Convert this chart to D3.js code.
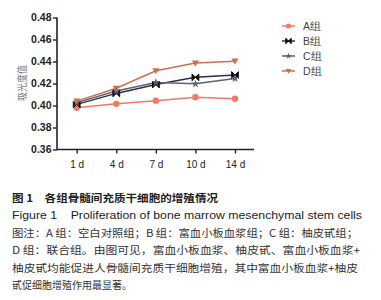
<!DOCTYPE html>
<html><head><meta charset="utf-8">
<script src="https://cdn.jsdelivr.net/npm/d3@7"></script>
<style>body{margin:0;background:#fff}svg{display:block}text{white-space:pre}</style>
</head><body>
<svg id="c" width="381" height="300"></svg>
<script>
const categories = ["1 d","4 d","7 d","10 d","14 d"];
const yTicks = [0.36,0.38,0.40,0.42,0.44,0.46,0.48];
const seriesNames = ["A组","B组","C组","D组"];
const seriesA = [0.398,0.4015,0.4044,0.4075,0.4062];
const seriesB = [0.401,0.411,0.419,0.4256,0.4277];
const seriesC = [0.4026,0.4132,0.421,0.4197,0.4246];
const seriesD = [0.404,0.4157,0.4316,0.4386,0.4403];
const colors = ["#f07a62","#2b2d52","#5d6078","#c9704e"];
const markers = ["circle","bowtie","star","tri"];
const yTitle = "吸光度值";
const captionLines = [
 "图 1　各组骨髓间充质干细胞的增殖情况",
 "Figure 1    Proliferation of bone marrow mesenchymal stem cells",
 "图注：A 组：空白对照组；B 组：富血小板血浆组；C 组：柚皮甙组；",
 "D 组：联合组。由图可见，富血小板血浆、柚皮甙、富血小板血浆+",
 "柚皮甙均能促进人骨髓间充质干细胞增殖，其中富血小板血浆+柚皮",
 "甙促细胞增殖作用最显著。"
];

const svg = d3.select("#c");
const x = d3.scalePoint().domain(categories).range([76.7,235]);
const y = d3.scaleLinear().domain([0.36,0.48]).range([149.5,17.5]);
const axisColor = "#222";

// y axis
const ya = svg.append("g").attr("transform","translate(57,0)")
 .call(d3.axisLeft(y).tickValues(yTicks).tickFormat(d3.format(".2f")).tickSize(4));
ya.select(".domain").attr("stroke",axisColor).attr("stroke-width",1.6).attr("d","M0,17.5V149.5");
ya.selectAll(".tick line").attr("stroke",axisColor).attr("stroke-width",1.4);
ya.selectAll(".tick text").attr("font-family","Liberation Sans, Arial").attr("font-size",10.5)
 .attr("font-weight","bold").attr("fill","#222").attr("x",-5.5);

// x axis
const xa = svg.append("g").attr("transform","translate(0,149.5)")
 .call(d3.axisBottom(x).tickSize(4));
xa.select(".domain").attr("stroke",axisColor).attr("stroke-width",1.6).attr("d","M57,0H254");
xa.selectAll(".tick line").attr("stroke",axisColor).attr("stroke-width",1.4);
xa.selectAll(".tick text").attr("font-family","Liberation Sans, Arial").attr("font-size",10)
 .attr("fill","#222").attr("y",11);

// y title
svg.append("text").attr("transform","translate(26,83) rotate(-90)")
 .attr("text-anchor","middle").attr("font-family","Noto Sans CJK SC").attr("font-size",10.5)
 .attr("fill","#777").attr("textLength",36).attr("lengthAdjust","spacingAndGlyphs").text(yTitle);

function drawMarker(g,type,color,s){
  s = s||1;
  if(type==="circle") g.append("circle").attr("r",3.2*s).attr("fill",color);
  else if(type==="bowtie") g.append("path").attr("d",`M${-3.4*s},${-3.4*s}L0,0L${-3.4*s},${3.4*s}ZM${3.4*s},${-3.4*s}L0,0L${3.4*s},${3.4*s}Z`).attr("fill","#111").attr("stroke","#111").attr("stroke-width",1);
  else if(type==="star") g.append("path").attr("d",d3.symbol().type(d3.symbolStar).size(22*s*s)()).attr("fill",color);
  else g.append("path").attr("d",`M${-3.6*s},${-2.6*s}L${3.6*s},${-2.6*s}L0,${3.4*s}Z`).attr("fill",color);
}

const all = [seriesA,seriesB,seriesC,seriesD];
const line = d3.line().x((d,i)=>x(categories[i])).y(d=>y(d));
all.forEach((s,k)=>{
  svg.append("path").attr("d",line(s)).attr("fill","none").attr("stroke",colors[k]).attr("stroke-width",1.5);
});
all.forEach((s,k)=>{
  s.forEach((v,i)=>{
    const g = svg.append("g").attr("transform",`translate(${x(categories[i])},${y(v)})`);
    drawMarker(g,markers[k],colors[k]);
  });
});

// legend
seriesNames.forEach((n,k)=>{
  const ly = 26 + k*15;
  svg.append("line").attr("x1",282).attr("x2",295).attr("y1",ly).attr("y2",ly)
   .attr("stroke",colors[k]).attr("stroke-width",1.5);
  const g = svg.append("g").attr("transform",`translate(288.5,${ly})`);
  drawMarker(g,markers[k],colors[k],0.8);
  svg.append("text").attr("x",303).attr("y",ly+3.8).attr("font-family","Liberation Sans, Arial")
   .attr("font-size",10.5).attr("fill","#444").text(n);
});

// caption
const cap = svg.append("g");
const capY = [201.5,219,237,254,271.5,289];
const capW = [206,350,346,348,346,120];
captionLines.forEach((t,i)=>{
  const tx = cap.append("text").attr("x",12).attr("y",capY[i]).attr("xml:space","preserve").text(t)
   .attr("textLength",capW[i]).attr("lengthAdjust","spacingAndGlyphs");
  if(i===0) tx.attr("font-family","Noto Sans CJK SC").attr("font-size",10.5).attr("font-weight","bold").attr("fill","#222");
  else if(i===1) tx.attr("font-family","Liberation Sans, Arial").attr("font-size",11.5).attr("fill","#222");
  else tx.attr("font-family","Noto Sans CJK SC").attr("font-size",10.5).attr("fill","#333");
});
</script>
</body></html>
